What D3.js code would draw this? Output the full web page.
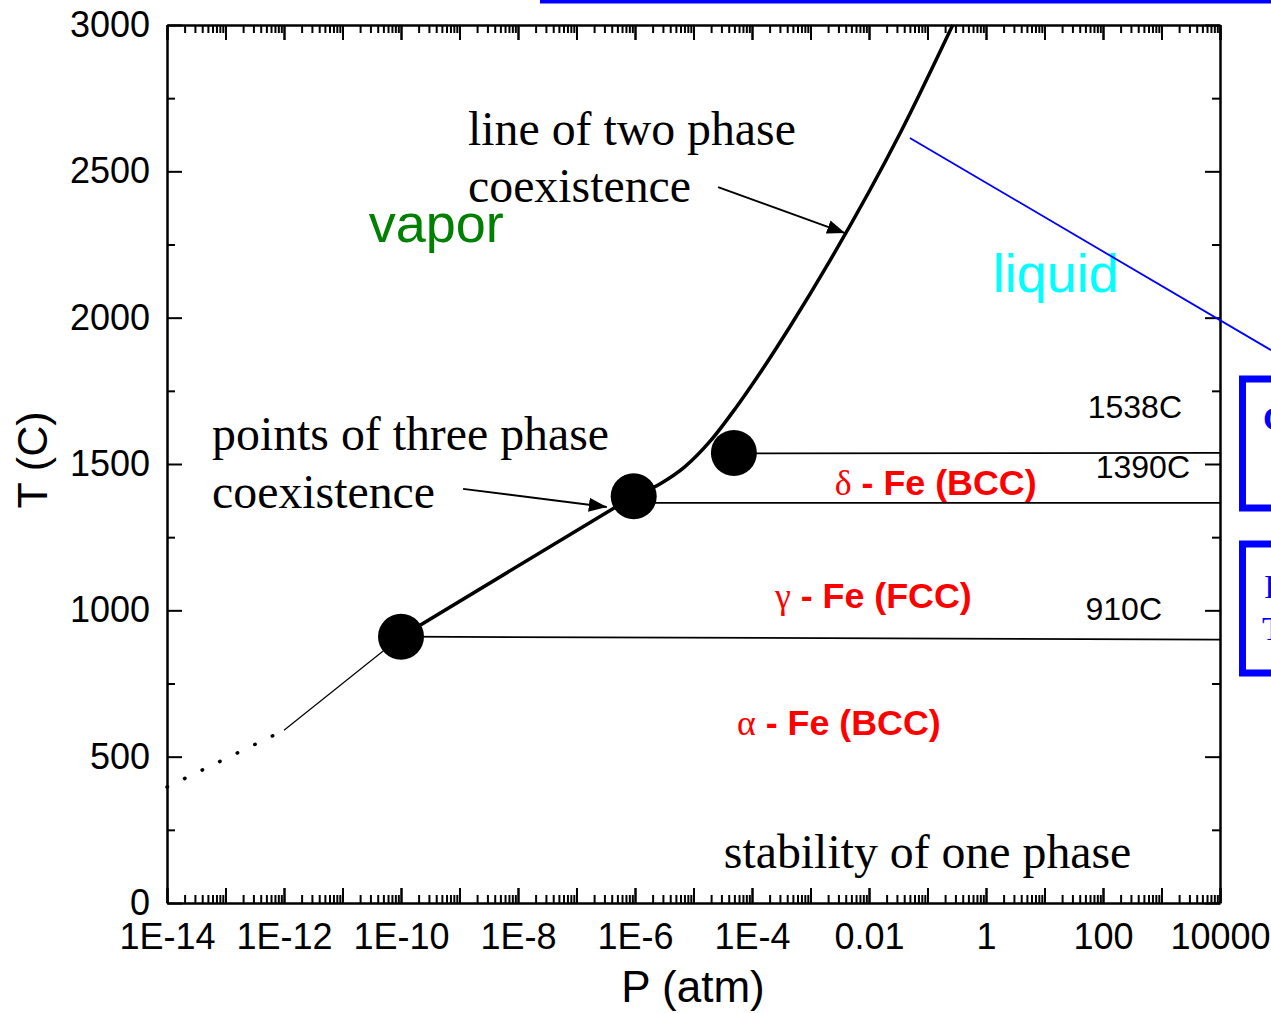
<!DOCTYPE html>
<html>
<head>
<meta charset="utf-8">
<script src="https://cdn.jsdelivr.net/npm/d3@7"></script>
<style>
body{margin:0;background:#fff;}
svg{display:block;}
.axis path,.axis line{stroke:#000;}
.axis line{stroke-width:2;}
.axis path{stroke-width:2.5;fill:none;}
.axis text{font-family:"Liberation Sans",Arial,sans-serif;font-size:36px;fill:#000;}
.serif{font-family:"Liberation Serif","Times New Roman",serif;font-size:47.8px;fill:#000;}
.phase{font-family:"Liberation Sans",Arial,sans-serif;font-size:35.8px;font-weight:bold;fill:#ff0000;}
.greek{font-family:"Liberation Serif",serif;font-weight:normal;}
.tlabel{font-family:"Liberation Sans",Arial,sans-serif;font-size:32px;fill:#000;}
</style>
</head>
<body>
<svg id="chart" width="1271" height="1013"></svg>
<script>
//Phase diagram of iron: P (atm, log) vs T (C)

//Axis ticks
const xTickVals = [1e-14, 1e-12, 1e-10, 1e-8, 1e-6, 1e-4, 1e-2, 1, 100, 10000];
const xTickLabels = ['1E-14', '1E-12', '1E-10', '1E-8', '1E-6', '1E-4', '0.01', '1', '100', '10000'];
const yTickVals = [0, 500, 1000, 1500, 2000, 2500, 3000];
const yMinorVals = [250, 750, 1250, 1750, 2250, 2750];

//Solid - vapor coexistence (straight between the two lower three phase points)
const solidVapP = [1e-10, 9.5e-7];
const solidVapT = [910, 1390];
//Upper coexistence curve (thick, curved)
const vaporP = [9.5e-7, 2.67e-6, 7.16e-6, 1.91e-5, 5.12e-5, 1.37e-4, 4.47e-4, 2.15e-3, 3.4e-2, 0.27];
const vaporT = [1390, 1432, 1491, 1577, 1688, 1811, 1970, 2195, 2630, 3000];

//Low temperature sublimation line (thin part, then dotted extrapolation)
const sublP = [1e-12, 1e-10];
const sublT = [590, 910];
const dotP = [1e-14, 1e-12];
const dotT = [396, 590];

//Three phase points
const tripleP = [1e-10, 9.5e-7, 4.9e-5];
const tripleT = [910, 1390, 1538];

//Solid-solid / solid-liquid boundaries (start P, start T, end P, end T)
const boundP0 = [1e-10, 9.5e-7, 4.9e-5];
const boundT0 = [910, 1367, 1536];
const boundP1 = [1e4, 1e4, 1e4];
const boundT1 = [900, 1367, 1538];

//Boundary temperature labels
const tempLabels = ['1538C', '1390C', '910C'];
const tempLabelP = [2.24e3, 3.07e3, 1.02e3];
const tempLabelT = [1657, 1452, 967];

//Phase region labels
const phaseGreek = ['\u03b4', '\u03b3', '\u03b1'];
const phaseName = [' - Fe (BCC)', ' - Fe (FCC)', ' - Fe (BCC)'];
const phaseP = [2.6e-3, 2.47e-4, 5.55e-5];
const phaseT = [1394, 1008, 574];

//Serif annotations
const noteText = ['line of two phase', 'coexistence', 'points of three phase', 'coexistence', 'stability of one phase'];
const noteP = [1.4e-9, 1.4e-9, 5.9e-14, 5.9e-14, 3.3e-5];
const noteT = [2590, 2395, 1548, 1350, 120];

//Annotation arrows [from P, from T, to P, to T]
const arrowFromP = [2.63e-5, 1.15e-9];
const arrowFromT = [2446, 1415];
const arrowToP = [3.9e-3, 3.3e-7];
const arrowToT = [2289, 1353];

//Blue overlay line (from slide), crosses the plot edge
const blueP = [5.0e-2, 7.45e4];
const blueT = [2614, 1889];

let svg = d3.select('#chart');
let x = d3.scaleLog().domain([1e-14, 1e4]).range([167, 1220]);
let y = d3.scaleLinear().domain([0, 3000]).range([903, 25]);

//Decade and minor tick positions on log axis
let decades = d3.range(-14, 5).map(e => Math.pow(10, e));
let minors = [];
decades.slice(0, -1).forEach(d => {
    for (let k = 2; k < 10; k++) minors.push(d * k);
});

//X axes (bottom with labels, top mirrored), ticks pointing inward
function xAxes(axisFn, ty, labels) {
    let g1 = svg.append('g').attr('class', 'axis').attr('transform', 'translate(0,' + ty + ')')
        .call(axisFn(x).tickValues(minors).tickSize(-8).tickSizeOuter(0).tickFormat(''));
    g1.select('.domain').remove();
    let g2 = svg.append('g').attr('class', 'axis').attr('transform', 'translate(0,' + ty + ')')
        .call(axisFn(x).tickValues(decades).tickSize(-15).tickSizeOuter(0).tickFormat(''));
    g2.select('.domain').remove();
    svg.append('g').attr('class', 'axis').attr('transform', 'translate(0,' + ty + ')')
        .call(axisFn(x).tickValues(xTickVals).tickSize(-15).tickSizeOuter(0).tickPadding(20)
            .tickFormat((d, i) => labels ? xTickLabels[i] : ''));
}
xAxes(d3.axisBottom, 903, true);
xAxes(d3.axisTop, 25, false);

function yAxes(axisFn, tx, labels) {
    let g1 = svg.append('g').attr('class', 'axis').attr('transform', 'translate(' + tx + ',0)')
        .call(axisFn(y).tickValues(yMinorVals).tickSize(-8).tickSizeOuter(0).tickFormat(''));
    g1.select('.domain').remove();
    svg.append('g').attr('class', 'axis').attr('transform', 'translate(' + tx + ',0)')
        .call(axisFn(y).tickValues(yTickVals).tickSize(-15).tickSizeOuter(0).tickPadding(17)
            .tickFormat(d => labels ? d : ''));
}
yAxes(d3.axisLeft, 167, true);
yAxes(d3.axisRight, 1220, false);

//Axis titles
svg.append('text').attr('x', 693).attr('y', 1002).attr('text-anchor', 'middle')
    .style('font-family', '"Liberation Sans",Arial,sans-serif').style('font-size', '44px').text('P (atm)');
svg.append('text').attr('transform', 'translate(47,460) rotate(-90)').attr('text-anchor', 'middle')
    .style('font-family', '"Liberation Sans",Arial,sans-serif').style('font-size', '43px').text('T (C)');

let line = d3.line().x(d => x(d[0])).y(d => y(d[1]));

//Horizontal phase boundaries
boundP0.forEach((p, i) => {
    svg.append('path').attr('d', line([[p, boundT0[i]], [boundP1[i], boundT1[i]]]))
        .attr('stroke', '#000').attr('stroke-width', 1.8).attr('fill', 'none');
});

//Sublimation lines
svg.append('path').attr('d', line(sublP.map((p, i) => [p, sublT[i]])))
    .attr('stroke', '#000').attr('stroke-width', 1.2).attr('fill', 'none');
svg.append('path').attr('d', line(dotP.map((p, i) => [p, dotT[i]])))
    .attr('stroke', '#000').attr('stroke-width', 3.5).attr('fill', 'none')
    .attr('stroke-linecap', 'round').attr('stroke-dasharray', '0.5,19');

//Main two phase coexistence line: straight part and curved part
svg.append('path').attr('d', line(solidVapP.map((p, i) => [p, solidVapT[i]])))
    .attr('stroke', '#000').attr('stroke-width', 3.5).attr('fill', 'none');
let curveLine = d3.line().x(d => x(d[0])).y(d => y(d[1])).curve(d3.curveMonotoneX);
svg.append('path').attr('d', curveLine(vaporP.map((p, i) => [p, vaporT[i]])))
    .attr('stroke', '#000').attr('stroke-width', 3.5).attr('fill', 'none');

//Three phase points
svg.selectAll('.triple').data(tripleP).enter().append('circle')
    .attr('class', 'triple')
    .attr('cx', d => x(d)).attr('cy', (d, i) => y(tripleT[i])).attr('r', 23).attr('fill', '#000');

//Arrow marker
svg.append('defs').append('marker').attr('id', 'arrow')
    .attr('markerUnits', 'userSpaceOnUse').attr('markerWidth', 20).attr('markerHeight', 14)
    .attr('refX', 18).attr('refY', 7).attr('orient', 'auto')
    .append('path').attr('d', 'M0,0 L18,7 L0,14 Z').attr('fill', '#000');
arrowFromP.forEach((p, i) => {
    svg.append('path').attr('d', line([[p, arrowFromT[i]], [arrowToP[i], arrowToT[i]]]))
        .attr('stroke', '#000').attr('stroke-width', 2).attr('fill', 'none')
        .attr('marker-end', 'url(#arrow)');
});

//Serif annotations
noteText.forEach((t, i) => {
    svg.append('text').attr('class', 'serif').attr('x', x(noteP[i])).attr('y', y(noteT[i])).text(t);
});

//Region labels
svg.append('text').attr('x', x(2.8e-11)).attr('y', y(2259))
    .style('font-family', '"Liberation Sans",Arial,sans-serif').style('font-size', '54px')
    .style('fill', '#008000').text('vapor');
svg.append('text').attr('x', x(1.32)).attr('y', y(2088))
    .style('font-family', '"Liberation Sans",Arial,sans-serif').style('font-size', '54px')
    .style('fill', '#00ffff').text('liquid');

phaseGreek.forEach((g, i) => {
    let t = svg.append('text').attr('class', 'phase').attr('x', x(phaseP[i])).attr('y', y(phaseT[i]));
    t.append('tspan').attr('class', 'greek').text(g);
    t.append('tspan').text(phaseName[i]);
});

tempLabels.forEach((t, i) => {
    svg.append('text').attr('class', 'tlabel').attr('text-anchor', 'end')
        .attr('x', x(tempLabelP[i])).attr('y', y(tempLabelT[i])).text(t);
});

//Blue slide decorations
svg.append('path').attr('d', line(blueP.map((p, i) => [p, blueT[i]])))
    .attr('stroke', '#0000ff').attr('stroke-width', 1.8).attr('fill', 'none');
svg.append('rect').attr('x', 540).attr('y', 0).attr('width', 731).attr('height', 3.5).attr('fill', '#0000ff');
svg.append('rect').attr('x', 1242.5).attr('y', 379).attr('width', 60).attr('height', 129)
    .attr('fill', 'none').attr('stroke', '#0000ff').attr('stroke-width', 7);
svg.append('rect').attr('x', 1242.5).attr('y', 544).attr('width', 60).attr('height', 129)
    .attr('fill', 'none').attr('stroke', '#0000ff').attr('stroke-width', 7);
svg.append('text').attr('x', 1263).attr('y', 430).style('font-family', '"Liberation Serif",serif')
    .style('font-size', '34px').style('font-weight', 'bold').style('fill', '#0000ff').text('C');
svg.append('text').attr('x', 1264).attr('y', 598).style('font-family', '"Liberation Serif",serif')
    .style('font-size', '34px').style('fill', '#0000ff').text('I');
svg.append('text').attr('x', 1262).attr('y', 640).style('font-family', '"Liberation Serif",serif')
    .style('font-size', '34px').style('fill', '#0000ff').text('T');
</script>
</body>
</html>
